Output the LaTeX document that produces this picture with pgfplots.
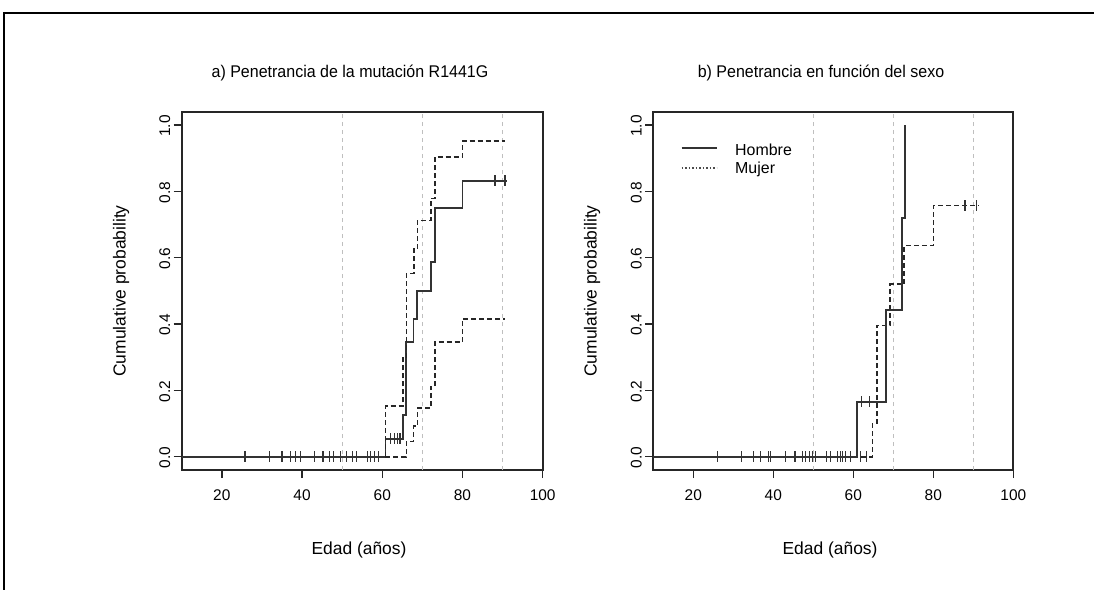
\documentclass[border=0pt]{standalone}
\usepackage{fontspec}
\setmainfont{Liberation Sans}
\newfontfamily\narrowsans{Liberation Sans}[FakeStretch=0.945]
\usepackage{pgfplots}
\pgfplotsset{compat=1.18}

% common look of both survival panels
\pgfplotsset{
  kmaxis/.style={
    scale only axis, height=358.3bp,
    xmin=10, xmax=100, ymin=-0.04, ymax=1.04,
    xtick={20,40,60,80,100}, ytick={0,0.2,0.4,0.6,0.8,1},
    tick align=outside, major tick length=8bp,
    xtick pos=bottom, ytick pos=left,
    axis line style={black!85, line width=1.8bp},
    tick style={black!85, line width=1.4bp},
    tick label style={font=\fontsize{15.5}{17}\selectfont},
    xticklabel style={yshift=-8bp},
    /pgf/number format/assume math mode=true,
    yticklabel style={rotate=90, anchor=south, xshift=-1bp,
      /pgf/number format/fixed, /pgf/number format/fixed zerofill,
      /pgf/number format/precision=1},
    extra x ticks={50,70,90}, extra x tick labels={},
    extra x tick style={grid=major, major tick length=0pt,
      major grid style={black!25, line width=1bp, dash pattern=on 4bp off 4bp}},
  },
  km/.style={const plot, no marks, black!80, line width=1.8bp},
  ci/.style={const plot, no marks, black!85, line width=1.6bp, dash pattern=on 5bp off 3bp},
  cens/.style={only marks, mark=|, mark size=5.5bp, black!80, mark options={solid, line width=1.2bp}},
}

\begin{document}
\begin{tikzpicture}
\path[use as bounding box] (0,0) rectangle (1094bp,-590bp);
\draw[line width=1.5bp] (4bp,-590bp) -- (4bp,-13bp) -- (1094bp,-13bp);

% a) penetrance of the mutation
\begin{axis}[kmaxis, width=361bp, at={(181.7bp,-470bp)}, anchor=south west]
\addplot[km] coordinates {(10,0) (60.8,0.054) (65.2,0.126) (66.0,0.346) (67.8,0.416)
  (68.75,0.50) (72.1,0.586) (73.1,0.75) (80,0.832) (91,0.832)};
\addplot[ci] coordinates {(60.8,0) (60.8,0.153) (65.2,0.30) (66.0,0.552) (67.9,0.627)
  (68.75,0.712) (72.1,0.778) (73.1,0.904) (80,0.952) (90.5,0.952)};
\addplot[ci] coordinates {(60.8,0) (66.0,0.046) (67.8,0.093) (68.75,0.146) (72.1,0.211)
  (73.1,0.346) (80,0.416) (90.5,0.416)};
\addplot[cens] coordinates {(25.8,0) (31.8,0) (35.0,0) (37.1,0) (38.3,0) (39.6,0)
  (43.1,0) (45.25,0) (46.9,0) (47.9,0) (49.6,0) (51.1,0) (52.5,0) (53.6,0) (56.25,0)
  (57.1,0) (58.15,0) (59.15,0)
  (62.1,0.054) (63.1,0.054) (63.75,0.054) (64.4,0.054) (88.1,0.832) (90.6,0.832)};
\end{axis}

% b) penetrance by sex
\begin{axis}[kmaxis, width=360bp, at={(653.3bp,-470bp)}, anchor=south west]
\addplot[ci] coordinates {(10,0) (64.75,0.10) (65.85,0.396) (69.2,0.52) (72.7,0.637)
  (80,0.757) (91.25,0.757)};
\addplot[km] coordinates {(10,0) (61.0,0.166) (68.2,0.443) (72.1,0.72) (72.9,1.0)};
\addplot[cens] coordinates {(26.1,0) (32.1,0) (35.0,0) (36.8,0) (38.75,0) (39.35,0)
  (43.1,0) (45.4,0) (47.25,0) (48.1,0) (49.0,0) (49.75,0) (50.6,0) (53.35,0) (54.35,0)
  (56.1,0) (56.7,0) (57.35,0) (58.1,0) (59.2,0) (61.7,0) (63.35,0)
  (62.1,0.166) (64.0,0.166) (68.3,0.396) (87.9,0.757) (90.8,0.757)};
\end{axis}

\draw[black!80, line width=1.8bp] (681.7bp,-148.3bp) -- (716.7bp,-148.3bp);
\draw[black!70, line width=1.4bp, dash pattern=on 1.5bp off 2bp] (681.7bp,-168bp) -- (716.7bp,-168bp);
\node[anchor=base west, inner sep=0pt, font=\fontsize{16}{18}\selectfont] at (735bp,-155bp) {Hombre};
\node[anchor=base west, inner sep=0pt, font=\fontsize{16}{18}\selectfont] at (735bp,-173bp) {Mujer};

\begin{scope}[font=\fontsize{17}{20}\selectfont\narrowsans]
\node at (350bp,-73bp) {a) Penetrancia de la mutación R1441G};
\node at (821bp,-73bp) {b) Penetrancia en función del sexo};
\end{scope}
\begin{scope}[font=\fontsize{17.5}{20}\selectfont]
\node at (359bp,-550bp) {Edad (años)};
\node at (830bp,-550bp) {Edad (años)};
\node[rotate=90] at (121bp,-291bp) {Cumulative probability};
\node[rotate=90] at (592bp,-291bp) {Cumulative probability};
\end{scope}
\end{tikzpicture}
\end{document}
